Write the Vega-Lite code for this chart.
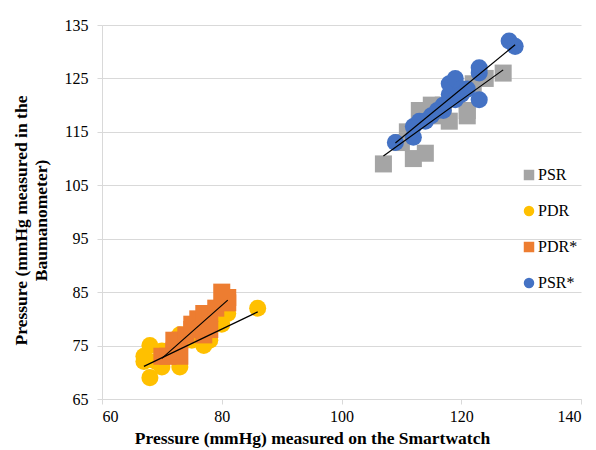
{
  "$schema": "https://vega.github.io/schema/vega-lite/v6.json",
  "width": 479,
  "height": 374,
  "autosize": {"type": "none"},
  "padding": {"left": 102, "top": 25, "right": 15, "bottom": 51},
  "background": "white",
  "config": {
    "view": {"stroke": null},
    "font": "Liberation Serif",
    "axis": {"labelFont": "Liberation Serif", "titleFont": "Liberation Serif"},
    "legend": {"labelFont": "Liberation Serif"}
  },
  "datasets": {
    "points": [
      {"series": "PSR", "x": 107, "y": 109},
      {"series": "PSR", "x": 112, "y": 110},
      {"series": "PSR", "x": 114, "y": 111},
      {"series": "PSR", "x": 110, "y": 113},
      {"series": "PSR", "x": 111, "y": 115},
      {"series": "PSR", "x": 113, "y": 119},
      {"series": "PSR", "x": 114, "y": 119},
      {"series": "PSR", "x": 115, "y": 120},
      {"series": "PSR", "x": 116, "y": 118},
      {"series": "PSR", "x": 118, "y": 117},
      {"series": "PSR", "x": 121, "y": 118},
      {"series": "PSR", "x": 119, "y": 123},
      {"series": "PSR", "x": 121, "y": 119},
      {"series": "PSR", "x": 117, "y": 120},
      {"series": "PSR", "x": 122, "y": 124},
      {"series": "PSR", "x": 124, "y": 125},
      {"series": "PSR", "x": 127, "y": 126},
      {"series": "PDR", "x": 67, "y": 72},
      {"series": "PDR", "x": 67, "y": 73},
      {"series": "PDR", "x": 68, "y": 75},
      {"series": "PDR", "x": 68, "y": 69},
      {"series": "PDR", "x": 69, "y": 72},
      {"series": "PDR", "x": 70, "y": 74},
      {"series": "PDR", "x": 70, "y": 71},
      {"series": "PDR", "x": 73, "y": 71},
      {"series": "PDR", "x": 72, "y": 74},
      {"series": "PDR", "x": 73, "y": 77},
      {"series": "PDR", "x": 75, "y": 76},
      {"series": "PDR", "x": 77, "y": 75},
      {"series": "PDR", "x": 78, "y": 76},
      {"series": "PDR", "x": 80, "y": 79},
      {"series": "PDR", "x": 81, "y": 81},
      {"series": "PDR", "x": 86, "y": 82},
      {"series": "PDR*", "x": 70, "y": 73},
      {"series": "PDR*", "x": 71, "y": 73},
      {"series": "PDR*", "x": 73, "y": 73},
      {"series": "PDR*", "x": 72, "y": 74},
      {"series": "PDR*", "x": 72, "y": 76},
      {"series": "PDR*", "x": 73, "y": 76},
      {"series": "PDR*", "x": 74, "y": 77},
      {"series": "PDR*", "x": 75, "y": 78},
      {"series": "PDR*", "x": 75, "y": 79},
      {"series": "PDR*", "x": 76, "y": 80},
      {"series": "PDR*", "x": 77, "y": 77},
      {"series": "PDR*", "x": 77, "y": 81},
      {"series": "PDR*", "x": 78, "y": 78},
      {"series": "PDR*", "x": 78, "y": 81},
      {"series": "PDR*", "x": 79, "y": 82},
      {"series": "PDR*", "x": 80, "y": 85},
      {"series": "PDR*", "x": 81, "y": 83},
      {"series": "PDR*", "x": 81, "y": 84},
      {"series": "PSR*", "x": 109, "y": 113},
      {"series": "PSR*", "x": 112, "y": 114},
      {"series": "PSR*", "x": 112, "y": 116},
      {"series": "PSR*", "x": 113, "y": 117},
      {"series": "PSR*", "x": 114, "y": 117},
      {"series": "PSR*", "x": 115, "y": 118},
      {"series": "PSR*", "x": 116, "y": 119},
      {"series": "PSR*", "x": 117, "y": 119},
      {"series": "PSR*", "x": 117, "y": 120},
      {"series": "PSR*", "x": 118, "y": 122},
      {"series": "PSR*", "x": 118, "y": 124},
      {"series": "PSR*", "x": 119, "y": 125},
      {"series": "PSR*", "x": 119, "y": 121},
      {"series": "PSR*", "x": 120, "y": 123},
      {"series": "PSR*", "x": 120, "y": 122},
      {"series": "PSR*", "x": 121, "y": 123},
      {"series": "PSR*", "x": 123, "y": 127},
      {"series": "PSR*", "x": 123, "y": 126},
      {"series": "PSR*", "x": 123, "y": 121},
      {"series": "PSR*", "x": 128, "y": 132},
      {"series": "PSR*", "x": 129, "y": 131}
    ],
    "trend": [
      {"series": "PSR", "x": 107, "y": 110.5},
      {"series": "PSR", "x": 127, "y": 126.6},
      {"series": "PDR", "x": 67, "y": 71.1},
      {"series": "PDR", "x": 86, "y": 81.3},
      {"series": "PDR*", "x": 70, "y": 72.6},
      {"series": "PDR*", "x": 81, "y": 83.5},
      {"series": "PSR*", "x": 109, "y": 112.9},
      {"series": "PSR*", "x": 129, "y": 131.3}
    ]
  },
  "layer": [
    {
      "data": {"name": "points"},
      "mark": {"type": "point", "filled": true, "opacity": 1, "size": 290},
      "encoding": {
        "x": {
          "field": "x", "type": "quantitative",
          "scale": {"domain": [60, 140], "nice": false, "zero": false},
          "axis": {
            "values": [60, 80, 100, 120, 140],
            "grid": false,
            "domainColor": "#D9D9D9",
            "tickColor": "#D9D9D9",
            "tickSize": 5,
            "labelFont": "Liberation Serif",
            "labelFontSize": 16,
            "labelColor": "black",
            "labelPadding": 4,
            "title": "Pressure (mmHg) measured on the Smartwatch",
            "titleFont": "Liberation Serif",
            "titleFontSize": 17.5,
            "titleFontWeight": "bold",
            "titleColor": "black",
            "titleX": 210,
            "titlePadding": 5
          }
        },
        "y": {
          "field": "y", "type": "quantitative",
          "scale": {"domain": [65, 135], "nice": false, "zero": false},
          "axis": {
            "values": [65, 75, 85, 95, 105, 115, 125, 135],
            "grid": true,
            "gridColor": "#D9D9D9",
            "domainColor": "#D9D9D9",
            "tickColor": "#D9D9D9",
            "tickSize": 5,
            "labelFont": "Liberation Serif",
            "labelFontSize": 16,
            "labelColor": "black",
            "labelPadding": 9,
            "title": ["Pressure (mmHg measured in the", "Baumanometer)"],
            "titleFont": "Liberation Serif",
            "titleFontSize": 17.5,
            "titleFontWeight": "bold",
            "titleColor": "black",
            "titleLineHeight": 20,
            "titleY": 195,
            "titlePadding": 14
          }
        },
        "color": {
          "field": "series", "type": "nominal",
          "scale": {"domain": ["PSR", "PDR", "PDR*", "PSR*"], "range": ["#A5A5A5", "#FFC000", "#ED7D31", "#4472C4"]},
          "legend": {
            "orient": "none",
            "legendX": 419,
            "legendY": 142,
            "title": null,
            "labelFontSize": 16,
            "labelColor": "black",
            "labelFont": "Liberation Serif",
            "symbolSize": 110,
            "rowPadding": 20,
            "labelOffset": 1,
            "symbolStrokeWidth": 0
          }
        },
        "shape": {
          "field": "series", "type": "nominal",
          "scale": {"domain": ["PSR", "PDR", "PDR*", "PSR*"], "range": ["square", "circle", "square", "circle"]}
        }
      }
    },
    {
      "data": {"name": "trend"},
      "mark": {"type": "line", "color": "black", "strokeWidth": 1.2},
      "encoding": {
        "x": {"field": "x", "type": "quantitative"},
        "y": {"field": "y", "type": "quantitative"},
        "detail": {"field": "series", "type": "nominal"}
      }
    }
  ]
}
